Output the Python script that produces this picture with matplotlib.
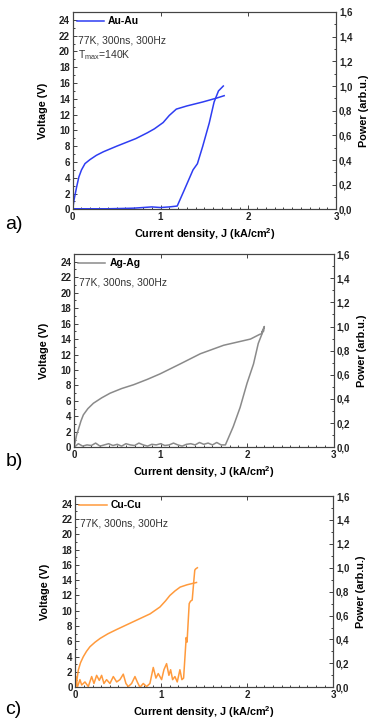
import numpy as np
import matplotlib.pyplot as plt
from matplotlib.ticker import MultipleLocator, FuncFormatter

plt.rcParams['font.family'] = ['Liberation Sans', 'DejaVu Sans']
plt.rcParams['mathtext.fontset'] = 'custom'
plt.rcParams['mathtext.rm'] = 'Liberation Sans'
plt.rcParams['mathtext.bf'] = 'Liberation Sans:bold'

# ---- data ----
# a) Au-Au
j_volt_a = [0, 0.015, 0.045, 0.07, 0.10, 0.14, 0.196, 0.27, 0.35, 0.5, 0.72, 0.85, 0.93, 1.03, 1.1,
            1.18, 1.3, 1.48, 1.64, 1.725]
v_a = [0, 1.2, 2.86, 4.1, 5.0, 5.8, 6.3, 6.85, 7.3, 8.0, 8.97, 9.7, 10.2, 11.0, 11.9,
       12.7, 13.1, 13.6, 14.1, 14.4]
j_pow_a = [0, 0.2, 0.4, 0.6, 0.7, 0.8, 0.9, 1.0, 1.1, 1.19, 1.27, 1.37, 1.42, 1.48, 1.555, 1.61, 1.66, 1.715]
p_a = [0.005, 0.005, 0.005, 0.008, 0.01, 0.015, 0.02, 0.015, 0.02, 0.027, 0.156, 0.32, 0.37, 0.51, 0.70, 0.87, 0.96, 1.0]

# b) Ag-Ag
j_volt_b = [0, 0.01, 0.03, 0.05, 0.08, 0.108, 0.16, 0.224, 0.32, 0.417, 0.55, 0.69, 0.85, 0.995, 1.23,
            1.46, 1.73, 2.04, 2.145, 2.17]
v_b = [0, 0.5, 1.6, 2.3, 3.4, 4.2, 5.0, 5.7, 6.4, 7.0, 7.6, 8.1, 8.8, 9.5, 10.8,
       12.1, 13.2, 14.0, 14.6, 14.7]
j_pow_b = [0.0, 0.05, 0.1, 0.15, 0.2, 0.25, 0.3, 0.35, 0.4, 0.45, 0.5, 0.55, 0.6, 0.65, 0.7, 0.75,
           0.8, 0.85, 0.9, 0.95, 1.0, 1.05, 1.1, 1.15, 1.2, 1.25, 1.3, 1.35, 1.4, 1.45, 1.5, 1.55,
           1.6, 1.65, 1.7, 1.75, 1.84, 1.92, 2.0, 2.075, 2.13, 2.19, 2.17, 2.2, 2.19]
p_b = [0.0, 0.03, 0.01, 0.02, 0.015, 0.035, 0.01, 0.02, 0.03, 0.015, 0.025, 0.01, 0.03, 0.02, 0.015, 0.035,
       0.02, 0.01, 0.025, 0.02, 0.03, 0.015, 0.02, 0.035, 0.02, 0.01, 0.025, 0.03, 0.02, 0.04, 0.025, 0.035,
       0.02, 0.04, 0.02, 0.02, 0.17, 0.33, 0.53, 0.69, 0.86, 0.97, 0.95, 1.0, 0.96]

# c) Cu-Cu
j_volt_c = [0, 0.01, 0.035, 0.06, 0.093, 0.13, 0.17, 0.23, 0.29, 0.38, 0.48, 0.67, 0.87, 0.985, 1.05,
            1.10, 1.16, 1.22, 1.3, 1.41]
v_c = [0, 0.3, 2.25, 3.2, 4.0, 4.7, 5.3, 5.9, 6.4, 7.0, 7.55, 8.55, 9.6, 10.5, 11.3,
       12.0, 12.6, 13.1, 13.4, 13.7]
j_pow_c = [0.0, 0.008, 0.023, 0.054, 0.074, 0.112, 0.151, 0.19, 0.217, 0.248, 0.279, 0.306, 0.333, 0.364,
           0.403, 0.442, 0.481, 0.519, 0.558, 0.589, 0.616, 0.655, 0.694, 0.721, 0.752, 0.791, 0.829,
           0.868, 0.907, 0.938, 0.965, 1.004, 1.031, 1.062, 1.089, 1.109, 1.132, 1.159, 1.186, 1.217,
           1.240, 1.26, 1.29, 1.30, 1.325, 1.34, 1.36, 1.38, 1.39, 1.40, 1.42]
p_c = [0.0, 0.09, 0.0, 0.064, 0.019, 0.045, 0.006, 0.09, 0.032, 0.10, 0.058, 0.10, 0.032, 0.064,
       0.032, 0.09, 0.045, 0.064, 0.11, 0.032, 0.006, 0.032, 0.09, 0.045, 0.0, 0.032, 0.006,
       0.032, 0.166, 0.077, 0.115, 0.064, 0.147, 0.198, 0.10, 0.147, 0.064, 0.09, 0.045, 0.147,
       0.064, 0.077, 0.416, 0.378, 0.70, 0.72, 0.73, 0.90, 0.98, 0.99, 1.0]

panels = [
    ("Au-Au", "#2e3df2", j_volt_a, v_a, j_pow_a, p_a, ["77K, 300ns, 300Hz", r"T$_{\mathrm{max}}$=140K"], "a)",
     [0.196, 0.712, 0.710, 0.2715], 0.680),
    ("Ag-Ag", "#8a8a8a", j_volt_b, v_b, j_pow_b, p_b, ["77K, 300ns, 300Hz"], "b)",
     [0.1995, 0.3847, 0.6995, 0.2659], 0.353),
    ("Cu-Cu", "#ff9a3c", j_volt_c, v_c, j_pow_c, p_c, ["77K, 300ns, 300Hz"], "c)",
     [0.203, 0.0546, 0.695, 0.2631], 0.012),
]

fig = plt.figure(figsize=(3.71, 7.27), dpi=100)

comma = FuncFormatter(lambda v, p: f"{v:.1f}".replace('.', ','))

for name, col, jv, v, jp, p, notes, tag, rect, tag_y in panels:
    ax = fig.add_axes(rect)
    ax2 = ax.twinx()
    ax.plot(jv, v, color=col, lw=1.1, label=name)
    ax2.plot(jp, p, color=col, lw=1.1)

    ax.set_xlim(0, 3)
    ax.set_ylim(0, 25)
    ax2.set_ylim(0, 1.6)
    ax.xaxis.set_major_locator(MultipleLocator(1))
    ax.xaxis.set_minor_locator(MultipleLocator(0.1))
    ax.yaxis.set_major_locator(MultipleLocator(2))
    ax.yaxis.set_minor_locator(MultipleLocator(1))
    ax2.yaxis.set_major_locator(MultipleLocator(0.2))
    ax2.yaxis.set_minor_locator(MultipleLocator(0.1))
    ax2.yaxis.set_major_formatter(comma)

    for a in (ax, ax2):
        a.tick_params(which='both', direction='in', labelsize=7, width=0.6, pad=2, colors='#222222')
        a.tick_params(which='major', length=3)
        a.tick_params(which='minor', length=1.6)
        for s in a.spines.values():
            s.set_color('#444444')
            s.set_linewidth(0.8)
        for t in a.get_xticklabels() + a.get_yticklabels():
            t.set_fontweight('bold')
    ax.tick_params(axis='x', top=True)

    ax.set_xlabel(r"Current density, J (kA/cm$^{\mathbf{2}}$)", fontsize=7.8, fontweight='bold', labelpad=3)
    ax.set_ylabel("Voltage (V)", fontsize=7.8, fontweight='bold', labelpad=8)
    ax2.set_ylabel("Power (arb.u.)", fontsize=7.8, fontweight='bold', labelpad=5)

    leg = ax.legend(loc='upper left', frameon=False, handlelength=2.6, handletextpad=0.4,
                    borderaxespad=0.2, borderpad=0.2, prop={'size': 7.5, 'weight': 'bold'})
    for i, n in enumerate(notes):
        ax.text(0.02, 0.855 - i * 0.075, n, transform=ax.transAxes, fontsize=7.5,
                ha='left', va='center', color='#333333')

    fig.text(0.015, tag_y, tag, fontsize=14, ha='left', va='bottom')

fig.savefig("out.png", dpi=100)
